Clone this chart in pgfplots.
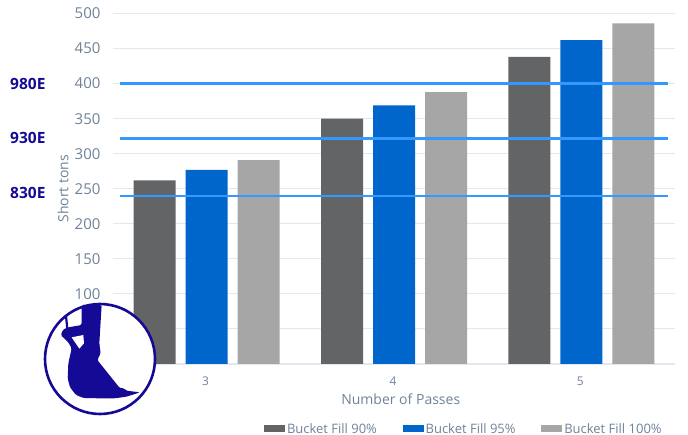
\documentclass[border=0pt]{standalone}
\usepackage{fontspec}
\setmainfont{Open Sans}
\usepackage{pgfplots}
\pgfplotsset{compat=1.18}
\definecolor{txt}{HTML}{6F8299}
\definecolor{gridc}{HTML}{E3E7EF}
\definecolor{navy}{HTML}{140A96}
\definecolor{dark}{HTML}{636466}
\definecolor{blue}{HTML}{0066CC}
\definecolor{lgray}{HTML}{A6A6A6}
\definecolor{line}{HTML}{3399FF}
\begin{document}
\begin{tikzpicture}[x=1pt,y=-1pt]
\path[use as bounding box] (0,0) rectangle (688,435);
\coordinate (o) at (113,364);
\begin{axis}[
    at={(o)}, anchor=south west,
    scale only axis, width=562pt, height=350.5pt,
    ybar=10pt, bar width=42pt,
    xmin=2.5, xmax=5.5, ymin=0, ymax=500,
    xtick={3,4,5}, ytick={0,50,...,500},
    ymajorgrids, grid style={gridc, line width=0.9pt},
    major tick length=0pt,
    axis x line*=bottom, axis y line*=left,
    x axis line style={gridc, line width=1pt, -},
    y axis line style={draw=none, -},
    /pgf/number format/assume math mode=true,
    yticklabel style={font=\fontsize{15}{17}\selectfont, text=txt, xshift=-9pt},
    xticklabel style={font=\fontsize{12}{14}\selectfont, text=txt, yshift=-9pt, xshift=-1pt},
    xlabel={Number of Passes}, ylabel={Short tons},
    xlabel style={font=\fontsize{14}{16}\selectfont, text=txt, at={(rel axis cs:0.512,0)}, anchor=north, yshift=-26pt},
    ylabel style={font=\fontsize{14}{16}\selectfont, text=txt, at={(rel axis cs:0,0.5)}, anchor=south, yshift=41pt},
    legend style={draw=none, fill=none, at={(0.2687,-0.163)}, anchor=north west, legend columns=3,
        font=\fontsize{13}{15}\selectfont, text=txt, inner sep=0pt, outer sep=0pt,
        /tikz/every even column/.append style={column sep=23.7pt}},
    legend image code/.code={\fill[#1] (0pt,-3.5pt) rectangle (21pt,3.5pt);},
    legend cell align=left,
]
\addplot[fill=dark, draw=none] coordinates {(3,262) (4,350) (5,438)};
\addplot[fill=blue, draw=none] coordinates {(3,277) (4,369) (5,462)};
\addplot[fill=lgray, draw=none] coordinates {(3,291) (4,388) (5,486)};
\legend{Bucket Fill 90\%, Bucket Fill 95\%, Bucket Fill 100\%}
\addplot[sharp plot, forget plot, line, line width=2.5pt] coordinates {(2.535,400) (5.465,400)};
\addplot[sharp plot, forget plot, line, line width=2.5pt] coordinates {(2.535,322) (5.465,322)};
\addplot[sharp plot, forget plot, line, line width=2.5pt] coordinates {(2.535,240) (5.465,240)};
\end{axis}
\foreach \yy/\lab in {83.5/980E,138/930E,192.5/830E}
    \node[anchor=west, inner sep=0pt, text=navy, font=\fontsize{15.5}{17}\selectfont\bfseries] at (10,\yy) {\lab};
% excavator bucket badge, zoom-crop coordinates
\fill[white] (100,359) circle (55);
\draw[navy, line width=2.6pt] (100,359) circle (55);
\begin{scope}[shift={(0,280)}, x=0.3333pt, y=-0.3333pt]
\fill[navy, rounded corners=1.5pt] (245,75) -- (305,75) -- (298,190) -- (302,220) -- (292,240) -- (360,325) -- (372,324) -- (378,332) -- (420,337)
    -- (380,350) -- (345,355) -- (300,355) -- (250,354) -- (228,345) -- (210,322) -- (203,295) -- (205,250) -- (215,205)
    -- (205,187) -- (182,165) -- (190,148) -- (205,142) -- (245,135) -- cycle;
\fill[white] (215,172) -- (250,165) -- (252,190) -- (238,206) -- cycle;
\draw[navy, line width=2.2pt] (198,108) -- (202,146);
\end{scope}
\end{tikzpicture}
\end{document}
